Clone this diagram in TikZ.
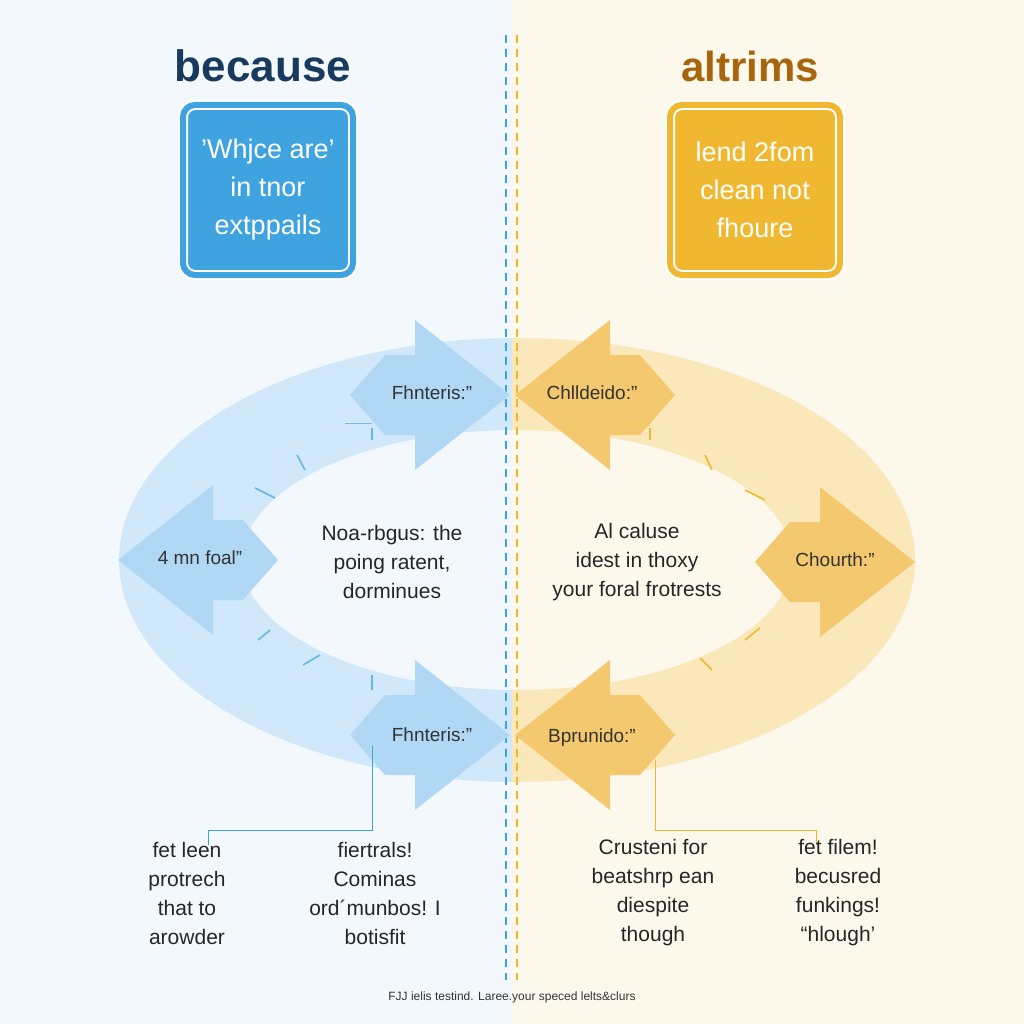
\documentclass[tikz,border=0pt]{standalone}
\usepackage{fontspec}
\setmainfont{Liberation Sans}
\begin{document}
\begin{tikzpicture}[x=1pt,y=-1pt,
  lab/.style={font=\fontsize{19}{22}\selectfont, text=black!80, align=center},
  body/.style={font=\fontsize{21}{29}\selectfont, text=black!85, align=center}]
\definecolor{bbox}{HTML}{3FA3E0}\definecolor{ybox}{HTML}{F0B830}
\definecolor{navy}{HTML}{173A5E}\definecolor{gold}{HTML}{A8650E}
\useasboundingbox (0,0) rectangle (1024,1024);
\fill[color={rgb,255:red,243;green,248;blue,252}] (0,0) rectangle (512,1024);
\fill[color={rgb,255:red,253;green,248;blue,236}] (512,0) rectangle (1024,1024);
% ring
\begin{scope}
\clip (0,0) rectangle (512,1024);
\fill[even odd rule, color={rgb,255:red,208;green,232;blue,249}] (517,560) ellipse [x radius=398, y radius=222] (517,560) ellipse [x radius=275, y radius=130];
\end{scope}
\begin{scope}
\clip (512,0) rectangle (1024,1024);
\fill[even odd rule, color={rgb,255:red,251;green,232;blue,186}] (517,560) ellipse [x radius=398, y radius=222] (517,560) ellipse [x radius=275, y radius=130];
\end{scope}
% divider
\draw[line width=1.5pt, color=bbox, dash pattern=on 8pt off 6pt] (506,35) -- (506,980);
\draw[line width=1.5pt, color=ybox, dash pattern=on 8pt off 6pt] (517,35) -- (517,980);
% titles
\node[font=\bfseries\fontsize{44}{48}\selectfont, text=navy] (t1) at (263,66) {because};
\node[font=\bfseries\fontsize{42}{48}\selectfont, text=gold] (t2) at (750,66) {altrims};
% boxes
\node[draw=white, line width=2pt, double=bbox, double distance=6pt, fill=bbox, rounded corners=12pt, minimum width=170pt, minimum height=170pt, text=white, font=\fontsize{27}{38}\selectfont, align=center] (b1) at (268,190) {'Whjce are'\\in tnor\\extppails};
\node[draw=white, line width=2pt, double=ybox, double distance=6pt, fill=ybox, rounded corners=12pt, minimum width=170pt, minimum height=170pt, text=white, font=\fontsize{27}{38}\selectfont, align=center] (b2) at (755,190) {lend 2fom\\clean not\\fhoure};
% arrows
\def\arr#1#2#3#4{\fill[#4] (#1,#2) ++(-160*#3,0) -- ++(35*#3,-40) -- ++(30*#3,0) -- ++(0,-35) -- ++(95*#3,75) -- ++(-95*#3,75) -- ++(0,-35) -- ++(-30*#3,0) -- cycle;}
\arr{510}{395}{1}{color={rgb,255:red,176;green,216;blue,245}}
\arr{515}{395}{-1}{color={rgb,255:red,244;green,200;blue,110}}
\arr{118}{560}{-1}{color={rgb,255:red,176;green,216;blue,245}}
\arr{915}{562}{1}{color={rgb,255:red,244;green,200;blue,110}}
\arr{510}{735}{1}{color={rgb,255:red,176;green,216;blue,245}}
\arr{515}{735}{-1}{color={rgb,255:red,244;green,200;blue,110}}
\node[lab] (a1) at (432,393) {Fhnteris:”};
\node[lab] (a2) at (592,393) {Chlldeido:”};
\node[lab] (a3) at (200,558) {4 mn foal”};
\node[lab] (a4) at (835,560) {Chourth:”};
\node[lab] (a5) at (432,735) {Fhnteris:”};
\node[lab] (a6) at (592,738) {Bprunido:”};
% ticks
\foreach \a/\b/\c/\d in {297/455/305/470, 255/488/275/498, 258/640/270/630, 303/665/320/655, 372/428/372/440, 372/675/372/690}
  \draw[line width=1.6pt, color=bbox!80] (\a,\b) -- (\c,\d);
\foreach \a/\b/\c/\d in {705/455/712/470, 745/490/765/500, 745/640/760/628, 700/658/712/670, 650/428/650/440}
  \draw[line width=1.6pt, color=ybox] (\a,\b) -- (\c,\d);
\draw[color=bbox!70, line width=1pt] (345,423) -- (372,423);
\draw[color=ybox!80, line width=1pt] (620,425) -- (650,425);
% centre texts
\node[body] (c1) at (392,562) {Noa-rbgus: the\\poing ratent,\\dorminues};
\node[body] (c2) at (637,562) {Al caluse\\idest in thoxy\\your foral frotrests};
% callouts
\coordinate (p1) at (208,845); \coordinate (p2) at (816,845);
\draw[color=bbox, line width=1pt] (a5.south) ++(-60,0) -- (372,830) -- (208,830) -- (p1);
\draw[color=ybox, line width=1pt] (a6.south) ++(63,10) -- (655,830) -- (816,830) -- (p2);
% bottom texts
\node[body] (d1) at (187,893) {fet leen\\protrech\\that to\\arowder};
\node[body] (d2) at (375,893) {fiertrals!\\Cominas\\ord´munbos! I\\botisfit};
\node[body] (d3) at (653,893) {Crusteni for\\beatshrp ean\\diespite\\though};
\node[body] (d4) at (838,893) {fet filem!\\becusred\\funkings!\\“hlough’};
\node[font=\fontsize{12}{14}\selectfont, text=black!80] (f) at (512,997) {FJJ ielis testind. Laree.your speced lelts\&clurs};
\end{tikzpicture}
\end{document}
